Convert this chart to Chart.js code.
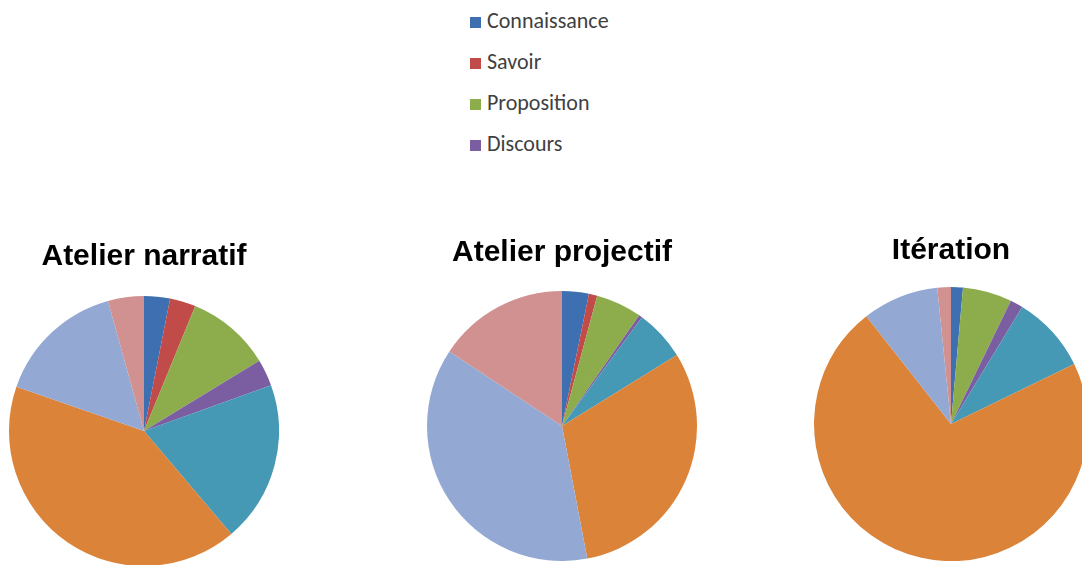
<!DOCTYPE html>
<html>
<head>
<meta charset="utf-8">
<script src="https://cdn.jsdelivr.net/npm/chart.js@4"></script>
<style>
    html, body { margin: 0; padding: 0; background: #ffffff; }
    body { width: 1082px; height: 565px; overflow: hidden; position: relative; }
    .pie { position: absolute; }
    #legend { position: absolute; left: 470px; top: 7px; font-family: Calibri, Carlito, 'Liberation Sans', Arial, sans-serif; font-size: 22px; line-height: 27px; color: #404040; }
    #legend div { height: 41px; display: flex; align-items: flex-start; }
    #legend span.box { display: inline-block; width: 11px; height: 11px; margin: 10px 6px 0 0; }
</style>
</head>
<body>
<div id="legend"></div>
<div class="pie" id="p1" style="left:9px; top:239px; width:270px; height:327px;"><canvas id="c1"></canvas></div>
<div class="pie" id="p2" style="left:427px; top:235px; width:270px; height:326px;"><canvas id="c2"></canvas></div>
<div class="pie" id="p3" style="left:814px; top:233px; width:274px; height:328px;"><canvas id="c3"></canvas></div>
<script>
// legend shows only the first four categories, the other slices are unnamed
const categories = ['Connaissance', 'Savoir', 'Proposition', 'Discours', '', '', '', ''];
const legendCount = 4;
const sliceColors = ['#3d6fb1', '#c04b49', '#8dad4d', '#7b5ea1', '#4599b4', '#dc833a', '#93a9d3', '#d19191'];

const titles = ['Atelier narratif', 'Atelier projectif', 'Itération'];

// percentages, clockwise from 12 o'clock
const narratif  = [3.1, 3.1, 10.1, 3.2, 19.3, 41.5, 15.4, 4.3];
const projectif = [3.2, 1.0, 5.5, 0.4, 6.1, 30.8, 37.3, 15.7];
const iteration = [1.4, 0.0, 5.8, 1.5, 9.1, 71.6, 9.0, 1.6];

const titlePad = [21.0, 20.0, 18.0];

const legendEl = document.getElementById('legend');
categories.slice(0, legendCount).forEach((name, i) => {
    const row = document.createElement('div');
    const box = document.createElement('span');
    box.className = 'box';
    box.style.background = sliceColors[i];
    row.appendChild(box);
    row.appendChild(document.createTextNode(name));
    legendEl.appendChild(row);
});

function buildPie(id, title, values, pad) {
    return new Chart(document.getElementById(id), {
        type: 'pie',
        data: {
            labels: categories,
            datasets: [{
                data: values,
                backgroundColor: sliceColors,
                borderWidth: 0,
                hoverOffset: 0
            }]
        },
        options: {
            responsive: true,
            maintainAspectRatio: false,
            animation: false,
            layout: { padding: 0 },
            plugins: {
                legend: { display: false },
                tooltip: { enabled: false },
                title: {
                    display: true,
                    text: title,
                    color: '#000000',
                    font: { family: "Arial, 'Liberation Sans', sans-serif", size: 30, weight: 'bold', lineHeight: 1.2 },
                    padding: { top: 0, bottom: pad }
                }
            }
        }
    });
}

buildPie('c1', titles[0], narratif, titlePad[0]);
buildPie('c2', titles[1], projectif, titlePad[1]);
buildPie('c3', titles[2], iteration, titlePad[2]);
</script>
</body>
</html>
